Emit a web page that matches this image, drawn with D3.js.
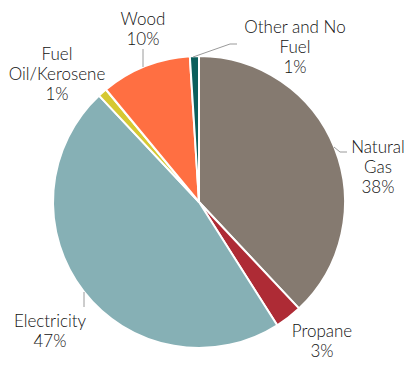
<!DOCTYPE html>
<html><head><meta charset="utf-8">
<script src="https://cdn.jsdelivr.net/npm/d3@7"></script>
<style>body{margin:0;background:#fff}svg{display:block}text{font-family:Lato,"Open Sans",sans-serif;font-size:17px;font-weight:300;fill:#111}</style>
</head><body>
<script>
const categories = ["Natural Gas","Propane","Electricity","Fuel Oil/Kerosene","Wood","Other and No Fuel"];
const values = [38,3,47,1,10,1];
const labelLines = [["Natural","Gas","38%"],["Propane","3%"],["Electricity","47%"],["Fuel","Oil/Kerosene","1%"],["Wood","10%"],["Other and No","Fuel","1%"]];
const colors = ["#857a70","#ae2b35","#86b0b5","#d6c832","#ff6f42","#0b5f5c"];

const W=412,H=366,cx=199,cy=202,R=146;
const svg=d3.select("body").append("svg").attr("width",W).attr("height",H);
const g=svg.append("g").attr("transform",`translate(${cx},${cy})`);
const pie=d3.pie().sort(null).value(d=>d)(values);
const arc=d3.arc().innerRadius(0).outerRadius(R);
g.selectAll("path").data(pie).join("path").attr("d",arc)
 .attr("fill",(d,i)=>colors[i]).attr("stroke","#fff").attr("stroke-width",2).attr("stroke-linejoin","round");

const labelPos=[[378,153],[322,337],[50,327],[57,60],[143,25],[295,33]];
const leaders=[
 [[334,147],[340,152],[347,152]],
 null,
 [[84,292],[84,307]],
 null,
 [[143,49],[143,67]],
 [[193,57],[230,44],[237,44]]
];
const line=d3.line();
leaders.forEach(l=>{ if(l) svg.append("path").attr("d",line(l)).attr("fill","none").attr("stroke","#9a9a9a").attr("stroke-width",1);});
labelLines.forEach((ls,i)=>{
  const t=svg.append("text").attr("text-anchor","middle").attr("x",labelPos[i][0]).attr("y",labelPos[i][1]);
  ls.forEach((s,j)=>t.append("tspan").attr("x",labelPos[i][0]).attr("dy",j?20:0).text(s));
});
</script>
</body></html>
